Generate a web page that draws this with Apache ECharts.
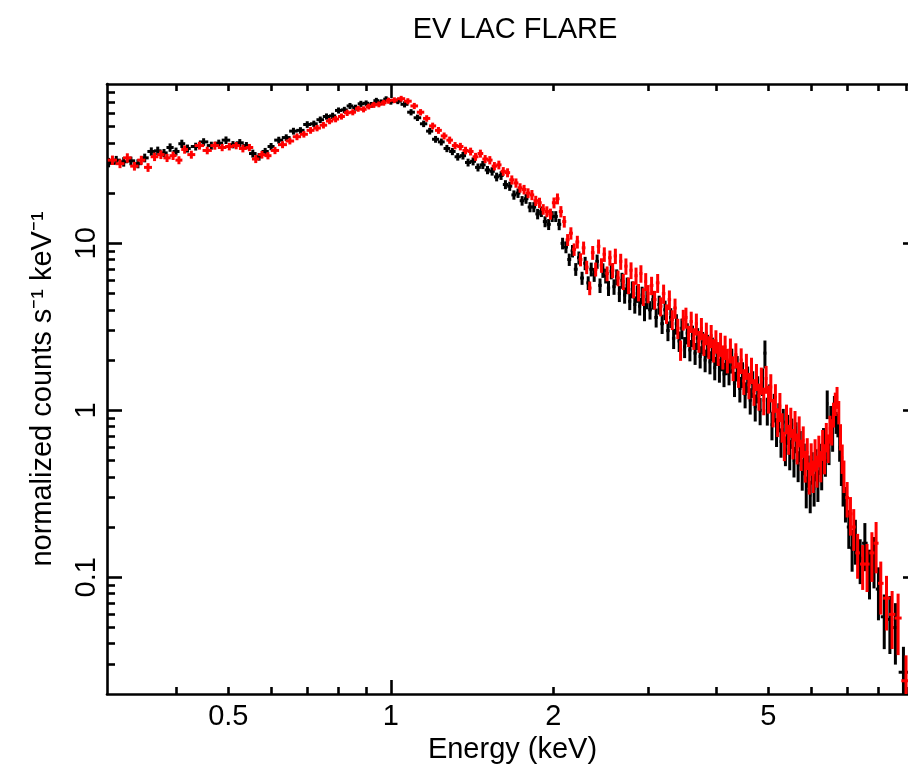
<!DOCTYPE html>
<html><head><meta charset="utf-8">
<script src="https://cdn.jsdelivr.net/npm/echarts@6/dist/echarts.min.js"></script>
<style>html,body{margin:0;padding:0;background:#fff}#c{width:908px;height:767px}</style>
</head><body><div id="c"></div>
<script>
// ---- data (keV, normalized counts s^-1 keV^-1) ----
const blackEnergy = [
  0.30,0.31,0.32,0.33,0.34,0.35,0.36,0.37,0.38,0.39,0.40,0.41,0.42,0.435,0.45,0.465,0.48,0.495,0.51,0.525,
  0.54,0.555,0.57,0.585,0.60,0.62,0.64,0.66,0.68,0.70,0.72,0.74,0.76,0.78,0.80,0.82,0.84,0.86,0.88,0.90,
  0.92,0.94,0.96,0.98,1.00,
  1.03,1.06,1.09,1.12,1.15,1.18,1.21,1.24,1.27,1.30,1.33,1.36,1.39,1.42,1.45,1.48,1.51,1.54,1.57,1.60,
  1.63,1.66,1.69,1.72,1.75,1.78,1.81,1.84,1.87,1.90,1.93,1.96,1.99,
  2.02,2.05,2.08,2.11,2.14,2.17,2.20,2.23,2.26,2.29,2.32,2.35,2.38,2.41,2.44,2.47,2.50,2.53,2.56,2.59,
  2.62,2.65,2.68,2.71,2.74,2.77,2.80,2.83,2.86,2.89,2.92,2.95,2.98,
  3.02,3.06,3.10,3.14,3.18,3.22,3.26,3.30,3.34,3.38,3.42,3.46,3.50,3.54,3.58,3.62,3.66,3.70,3.74,3.78,
  3.82,3.86,3.90,3.94,3.98,4.02,4.06,4.10,4.14,4.18,
  4.23,4.28,4.33,4.38,4.43,4.48,4.53,4.58,4.63,4.68,4.73,4.78,4.83,4.88,4.93,4.98,5.03,5.08,5.13,5.18,
  5.23,5.28,5.33,5.38,5.43,5.48,5.53,5.58,5.63,5.68,5.73,5.78,5.83,5.88,5.93,5.98,6.03,6.08,6.13,6.18,
  6.23,6.28,6.33,6.38,6.43,6.48,6.53,6.58,6.63,6.68,6.73,6.78,6.83,6.88,
  6.95,7.05,7.15,7.25,7.4,7.55,7.7,7.85,8.0,8.2,8.4,8.6,8.9
];
const redEnergy = [
  0.305,0.315,0.325,0.335,0.345,0.355,0.365,0.375,0.385,0.395,0.405,0.415,0.427,0.442,0.457,0.472,0.487,0.502,0.517,0.532,
  0.547,0.562,0.577,0.592,0.61,0.63,0.65,0.67,0.69,0.71,0.73,0.75,0.77,0.79,0.81,0.83,0.85,0.87,0.89,0.91,
  0.93,0.95,0.97,0.99,1.015,
  1.045,1.075,1.105,1.135,1.165,1.195,1.225,1.255,1.285,1.315,1.345,1.375,1.405,1.435,1.465,1.495,1.525,1.555,1.585,1.615,
  1.645,1.675,1.705,1.735,1.765,1.795,1.825,1.855,1.885,1.915,1.945,1.975,2.005,
  2.035,2.065,2.095,2.125,2.155,2.185,2.215,2.245,2.275,2.305,2.335,2.365,2.395,2.425,2.455,2.485,2.515,2.545,2.575,2.605,
  2.635,2.665,2.695,2.725,2.755,2.785,2.815,2.845,2.875,2.905,2.935,2.965,2.995,
  3.04,3.08,3.12,3.16,3.20,3.24,3.28,3.32,3.36,3.40,3.44,3.48,3.52,3.56,3.60,3.64,3.68,3.72,3.76,3.80,
  3.84,3.88,3.92,3.96,4.00,4.04,4.08,4.12,4.16,4.20,
  4.255,4.305,4.355,4.405,4.455,4.505,4.555,4.605,4.655,4.705,4.755,4.805,4.855,4.905,4.955,5.005,5.055,5.105,5.155,5.205,
  5.255,5.305,5.355,5.405,5.455,5.505,5.555,5.605,5.655,5.705,5.755,5.805,5.855,5.905,5.955,6.005,6.055,6.105,6.155,6.205,
  6.255,6.305,6.355,6.405,6.455,6.505,6.555,6.605,6.655,6.705,6.755,6.805,6.855,6.905,
  7.0,7.1,7.2,7.32,7.48,7.62,7.78,7.92,8.08,8.28,8.48,8.7,9.0
];
const blackCounts = [
  30.5,31.5,30.8,31.2,30.0,32.5,35.5,35.8,34.8,37.5,35.5,39.5,37.0,38.0,40.5,38.5,39.8,41.5,39.0,40.0,
  38.5,34.5,33.0,35.5,38.0,41.5,43.0,47.0,47.5,51.5,52.0,55.0,57.5,58.0,62.5,63.0,66.5,65.0,68.5,69.0,
  67.5,71.5,70.0,73.0,70.5,
  71.0,68.0,61.0,56.5,52.0,47.0,42.0,40.5,37.0,35.5,33.0,33.5,30.5,31.0,28.5,29.5,27.5,27.0,25.0,25.5,
  22.5,22.0,19.5,20.0,18.0,18.5,16.5,16.5,15.0,15.5,13.5,13.0,14.5,
  14.5,13.0,10.0,9.5,8.0,9.0,7.0,8.2,6.2,7.6,5.8,7.0,6.5,7.8,5.6,6.9,6.4,5.4,6.8,5.5,
  6.3,5.0,6.0,4.9,5.6,4.5,5.3,4.3,5.0,4.2,4.9,3.9,4.6,
  4.0,4.6,3.6,4.3,3.3,4.0,3.0,3.6,2.7,3.3,2.6,3.1,2.4,2.9,2.3,2.8,2.2,2.7,2.1,2.55,
  2.0,2.45,1.95,2.35,1.8,2.2,1.75,2.05,1.65,1.95,
  1.7,2.0,1.45,1.8,1.35,1.65,1.25,1.55,1.15,1.45,1.05,1.35,1.0,1.5,2.2,1.0,1.2,0.82,1.05,0.75,
  0.92,0.65,0.85,0.58,0.78,0.55,0.74,0.5,0.7,0.47,0.62,0.42,0.52,0.33,0.44,0.31,0.46,0.34,0.48,0.36,
  0.52,0.42,0.65,0.5,1.1,0.58,0.9,0.68,1.05,0.85,0.82,0.6,0.44,0.34,
  0.28,0.2,0.15,0.17,0.13,0.16,0.11,0.13,0.085,0.058,0.056,0.05,0.027
];
const redCounts = [
  31.5,30.0,32.5,29.0,31.5,28.5,33.0,34.0,32.5,33.5,31.5,36.5,34.0,38.5,36.0,38.5,37.5,38.0,38.5,37.0,
  37.5,32.0,34.0,33.5,36.0,39.0,41.0,43.5,45.0,47.5,49.0,51.0,54.0,55.5,57.5,60.5,61.0,64.0,63.5,66.0,
  67.5,68.0,69.5,71.5,72.0,
  73.5,71.0,66.5,61.0,56.0,50.5,47.5,44.0,41.5,38.5,38.0,36.0,35.5,33.0,34.5,32.0,31.5,29.0,29.5,27.0,
  26.5,24.0,23.0,21.5,21.0,20.0,19.5,18.0,17.5,16.0,15.5,15.0,17.5,
  18.5,15.5,13.5,10.5,11.5,9.2,10.2,8.0,9.4,7.2,5.4,8.8,7.0,9.6,7.4,8.6,6.6,8.2,6.9,8.4,
  6.2,7.8,5.9,7.3,5.6,6.9,5.3,6.4,5.1,6.6,4.8,5.9,5.0,
  5.6,4.6,5.8,4.2,5.0,3.8,4.6,3.5,4.1,3.1,2.3,3.5,3.6,2.8,3.4,2.7,3.3,2.6,3.1,2.5,
  2.9,2.4,2.8,2.3,2.6,2.2,2.5,2.1,2.4,2.0,
  2.3,1.8,2.15,1.65,2.0,1.5,1.85,1.42,1.75,1.3,1.6,1.22,1.52,1.15,1.55,1.18,1.38,0.98,1.2,0.86,
  1.06,0.8,0.62,0.9,0.68,0.86,0.64,0.82,0.6,0.76,0.55,0.66,0.47,0.56,0.4,0.52,0.41,0.55,0.44,0.58,
  0.47,0.63,0.52,0.7,0.6,0.78,0.75,0.95,1.1,1.2,0.98,0.7,0.52,0.41,
  0.3,0.24,0.2,0.14,0.12,0.12,0.14,0.16,0.092,0.075,0.06,0.057,0.024
];
// relative 1-sigma error per bin (same bin index for both detectors)
const relErr = [
  0.065,0.06,0.065,0.06,0.062,0.06,0.058,0.06,0.056,0.058,0.055,0.057,0.055,
  0.054,0.052,0.055,0.05,0.052,0.05,0.053,0.05,0.055,0.052,0.05,0.05,
  0.048,0.046,0.047,0.045,0.046,0.044,0.045,0.043,0.044,0.042,0.043,0.042,0.041,0.042,0.04,0.041,0.04,0.04,0.041,0.04,
  0.04,0.042,0.043,0.044,0.045,0.046,0.047,0.048,0.05,0.05,0.052,0.052,0.054,0.055,0.055,0.056,0.057,0.058,0.06,0.06,
  0.062,0.063,0.064,0.065,0.066,0.068,0.07,0.07,0.072,0.073,0.075,0.076,0.075,
  0.075,0.078,0.08,0.082,0.085,0.086,0.088,0.09,0.09,0.092,0.094,0.095,0.096,0.098,0.1,0.1,0.102,0.104,0.105,0.106,
  0.108,0.11,0.11,0.112,0.114,0.115,0.116,0.118,0.12,0.12,0.122,0.124,0.125,
  0.126,0.128,0.13,0.13,0.132,0.134,0.135,0.136,0.138,0.14,0.14,0.142,0.144,0.145,0.146,0.148,0.15,0.15,0.152,0.154,
  0.155,0.156,0.158,0.16,0.16,0.162,0.164,0.165,0.166,0.168,
  0.17,0.17,0.172,0.174,0.175,0.176,0.178,0.18,0.18,0.182,0.184,0.185,0.186,0.188,0.19,0.19,0.192,0.194,0.195,0.196,
  0.198,0.2,0.2,0.202,0.204,0.205,0.206,0.208,0.21,0.21,0.212,0.214,0.215,0.216,0.218,0.22,0.22,0.22,0.218,0.215,
  0.212,0.21,0.205,0.2,0.195,0.19,0.18,0.17,0.16,0.15,0.16,0.18,0.2,0.22,
  0.24,0.26,0.28,0.3,0.3,0.32,0.33,0.34,0.35,0.36,0.38,0.4,0.42
];
const xTickLabels = [0.5, 1, 2, 5];
const xMajorTicks = [1];
const xMinorTicks = [0.4,0.5,0.6,0.7,0.8,0.9,2,3,4,5,6,7,8,9];
const yTickLabels = [0.1, 1, 10];
const yMajorTicks = [0.1, 1, 10];
const yMinorTicks = [0.03,0.04,0.05,0.06,0.07,0.08,0.09,0.2,0.3,0.4,0.5,0.6,0.7,0.8,0.9,
  2,3,4,5,6,7,8,9,20,30,40,50,60,70,80];

[blackEnergy, redEnergy, blackCounts, redCounts].forEach(a => {
  if (a.length !== relErr.length) console.error('length mismatch', a.length, relErr.length);
});

// half bin widths from neighbour spacing
function halfWidths(en) {
  return en.map((e, i) => {
    const l = i > 0 ? e - en[i - 1] : en[1] - en[0];
    const r = i < en.length - 1 ? en[i + 1] - e : l;
    return Math.min(l, r) * 0.6;
  });
}

const FONT = "'Liberation Sans', Arial, Helvetica, sans-serif";
const FS = 29;
const LW = 3;

function errSeries(name, en, counts, color, z) {
  const hw = halfWidths(en);
  return {
    type: 'custom', name, xAxisIndex: 0, yAxisIndex: 0, clip: true, z,
    data: en.map((e, i) => [e, counts[i], hw[i], relErr[i]]),
    encode: { x: 0, y: 1 },
    renderItem(params, api) {
      const e = api.value(0), v = api.value(1), w = api.value(2), r = api.value(3);
      const pL = api.coord([e - w, v]), pR = api.coord([e + w, v]);
      const pT = api.coord([e, v * (1 + r)]), pB = api.coord([e, v * (1 - r)]);
      return { type: 'group', children: [
        { type: 'line', shape: { x1: pL[0], y1: pL[1], x2: pR[0], y2: pR[1] }, style: { stroke: color, lineWidth: LW } },
        { type: 'line', shape: { x1: pT[0], y1: pT[1], x2: pB[0], y2: pB[1] }, style: { stroke: color, lineWidth: LW } }
      ]};
    }
  };
}

const axisLineStyle = { color: '#000', width: 2.6 };
const xBase = { type: 'log', logBase: 10, min: 0.298, max: 9.47, gridIndex: 0, splitLine: { show: false } };
const yBase = { type: 'log', logBase: 10, min: 0.02, max: 90, gridIndex: 0, splitLine: { show: false } };
const labelStyle = { color: '#000', fontSize: FS, fontFamily: FONT };
const fmt = v => String(+(+v).toPrecision(3));

function mkAxis(base, position, line, ticks, len, labels, extra) {
  return Object.assign({}, base, {
    position,
    axisLine: { show: line, onZero: false, lineStyle: axisLineStyle },
    axisTick: { show: true, inside: true, length: len, customValues: ticks, lineStyle: { color: '#000', width: 2.6 } },
    axisLabel: labels ? Object.assign({ show: true, customValues: labels, formatter: fmt }, labelStyle) : { show: false }
  }, extra || {});
}

const option = {
  animation: false,
  backgroundColor: '#fff',
  title: {
    text: 'EV LAC FLARE', left: 510, top: 10, textAlign: 'center',
    textStyle: { color: '#000', fontSize: FS, fontWeight: 'normal', fontFamily: FONT }
  },
  grid: { left: 107, top: 84, width: 811, height: 610, containLabel: false, outerBoundsMode: 'none' },
  xAxis: [
    mkAxis(xBase, 'bottom', true, xMajorTicks, 14, xTickLabels,
      { name: 'Energy (keV)', nameLocation: 'middle', nameGap: 39,
        nameTextStyle: { color: '#000', fontSize: FS, fontFamily: FONT },
        axisLabel: Object.assign({ show: true, customValues: xTickLabels, formatter: fmt, margin: 8 }, labelStyle) }),
    mkAxis(xBase, 'bottom', false, xMinorTicks, 7, null),
    mkAxis(xBase, 'top', true, xMajorTicks, 14, null),
    mkAxis(xBase, 'top', false, xMinorTicks, 7, null)
  ],
  yAxis: [
    mkAxis(yBase, 'left', true, yMajorTicks, 15, yTickLabels,
      { name: 'normalized counts s\u207B\u00B9 keV\u207B\u00B9', nameLocation: 'middle', nameGap: 50,
        nameTextStyle: { color: '#000', fontSize: FS, fontFamily: FONT },
        axisLabel: Object.assign({ show: true, customValues: yTickLabels, formatter: fmt, rotate: 90, margin: 6 }, labelStyle) }),
    mkAxis(yBase, 'left', false, yMinorTicks, 8, null),
    mkAxis(yBase, 'right', true, yMajorTicks, 15, null),
    mkAxis(yBase, 'right', false, yMinorTicks, 8, null)
  ],
  series: [
    errSeries('black', blackEnergy, blackCounts, '#000', 2),
    errSeries('red', redEnergy, redCounts, '#ff0000', 3)
  ]
};

const chart = echarts.init(document.getElementById('c'), null, { renderer: 'canvas' });
chart.setOption(option);
</script>
</body></html>
